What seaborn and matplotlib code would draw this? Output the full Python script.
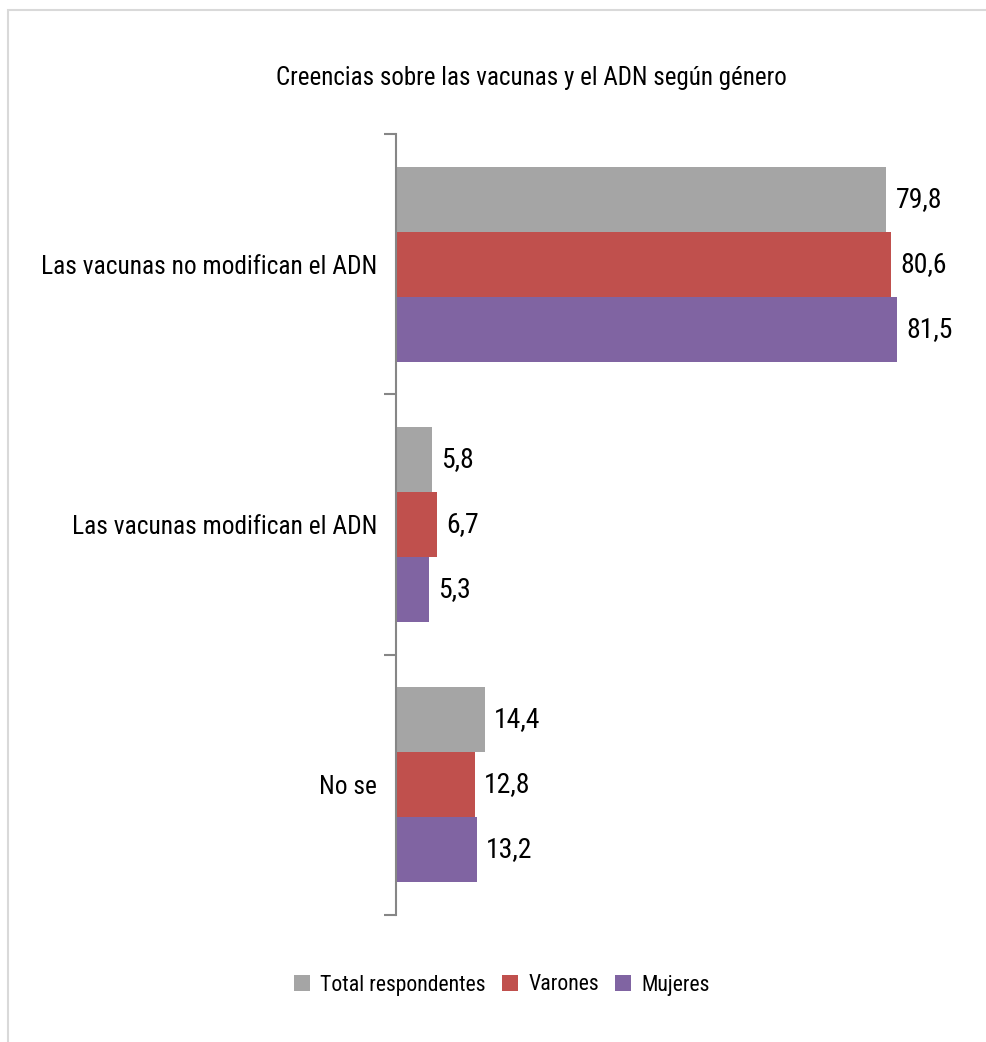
import matplotlib
matplotlib.use("Agg")
import matplotlib.pyplot as plt
import matplotlib.patches as mpatches
from matplotlib.ticker import FixedLocator
import seaborn as sns
import pandas as pd

# Data
categories = ["Las vacunas no modifican el ADN", "Las vacunas modifican el ADN", "No se"]
series = ["Total respondentes", "Varones", "Mujeres"]
total = [79.8, 5.8, 14.4]
varones = [80.6, 6.7, 12.8]
mujeres = [81.5, 5.3, 13.2]
colors = ["#A5A5A5", "#C0504D", "#8064A2"]
title = "Creencias sobre las vacunas y el ADN según género"

sns.set_theme(style="white")
plt.rcParams["font.family"] = ["Roboto Condensed", "DejaVu Sans"]

rows = []
for name, vals in zip(series, [total, varones, mujeres]):
    for cat, v in zip(categories, vals):
        rows.append({"categoria": cat, "grupo": name, "valor": v})
df = pd.DataFrame(rows)

fig = plt.figure(figsize=(9.86, 10.42), dpi=100)
ax = fig.add_axes([396 / 986, 1 - 915 / 1042, 579 / 986, (915 - 134) / 1042])

sns.barplot(data=df, y="categoria", x="valor", hue="grupo", orient="h",
            order=categories, hue_order=series, palette=colors, saturation=1,
            width=0.75, linewidth=0, legend=False, ax=ax)

ax.set_xlim(0, 94.2)
ax.set_ylim(2.5, -0.5)
ax.set_xlabel("")
ax.set_ylabel("")
ax.set_xticks([])

# value labels with decimal comma
for cont, vals in zip(ax.containers, [total, varones, mujeres]):
    ax.bar_label(cont, labels=[f"{v:.1f}".replace(".", ",") for v in vals],
                 padding=6.5, fontsize=20, color="#000000")

# spines
for s in ["top", "right", "bottom"]:
    ax.spines[s].set_visible(False)
ax.spines["left"].set_color("#868686")
ax.spines["left"].set_linewidth(1.5)

# category labels centered, boundary ticks between categories
ax.tick_params(axis="y", which="major", length=0, pad=13.5, labelsize=18.3,
               labelcolor="#000000")
ax.yaxis.set_minor_locator(FixedLocator([-0.5, 0.5, 1.5, 2.5]))
ax.tick_params(axis="y", which="minor", length=8.6, width=1.5, color="#868686",
               direction="out", left=True)

fig.text(0.5385, 1 - 78 / 1042, title, ha="center", va="center",
         fontsize=18, color="#000000")

handles = [mpatches.Patch(facecolor=c, edgecolor="none", label=s)
           for c, s in zip(colors, series)]
fig.legend(handles=handles, loc="center", bbox_to_anchor=(502 / 986, 1 - 985 / 1042),
           ncol=3, frameon=False, fontsize=15.7, handlelength=0.73, handleheight=0.73,
           handletextpad=0.46, columnspacing=0.75, labelcolor="#000000")

# outer frame of the chart area
frame = mpatches.Rectangle((8 / 986, -0.05), 1.2, 1 - 10 / 1042 + 0.05,
                           transform=fig.transFigure, fill=False,
                           edgecolor="#D9D9D9", linewidth=1.5, clip_on=False)
fig.patches.append(frame)

fig.savefig("out.png", dpi=100, facecolor="white")
